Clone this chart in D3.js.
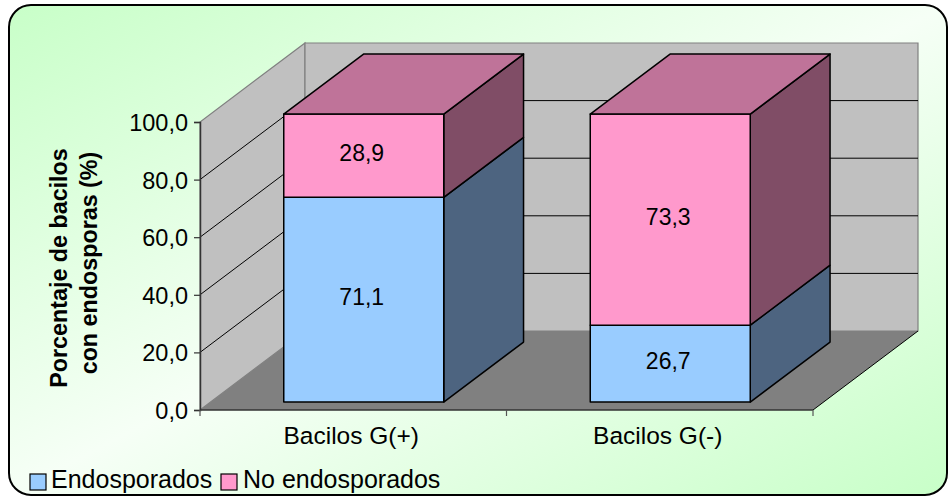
<!DOCTYPE html>
<html>
<head>
<meta charset="utf-8">
<script src="https://cdn.jsdelivr.net/npm/d3@7"></script>
<style>
  html, body { margin: 0; padding: 0; background: #ffffff; }
  svg { display: block; }
  text { font-family: "Liberation Sans", Arial, sans-serif; fill: #000; }
</style>
</head>
<body>
<svg id="chart" width="949" height="496"></svg>
<script>
// Data
const categories = ["Bacilos G(+)", "Bacilos G(-)"];
const endosporados = [71.1, 26.7];
const noEndosporados = [28.9, 73.3];
const seriesNames = ["Endosporados", "No endosporados"];
const yTicks = [0, 20, 40, 60, 80, 100];
const yTitle = ["Porcentaje de bacilos", "con endosporas (%)"];

// Face colours per series: front, side (shaded), top
const seriesColors = [
  { front: "#99ccff", side: "#4d6480", top: "#7399bf" },
  { front: "#ff99cc", side: "#804d66", top: "#bf7399" }
];

const fmt = d => d.toFixed(1).replace(".", ",");

const svg = d3.select("#chart");

// Background panel with diagonal gradient
const defs = svg.append("defs");
const grad = defs.append("linearGradient")
  .attr("id", "bg").attr("x1", 0).attr("y1", 0).attr("x2", 1).attr("y2", 1);
grad.append("stop").attr("offset", 0).attr("stop-color", "#c8ffc8");
grad.append("stop").attr("offset", 0.5).attr("stop-color", "#f6fff6");
grad.append("stop").attr("offset", 1).attr("stop-color", "#c8ffc8");

svg.append("rect")
  .attr("x", 9).attr("y", 5).attr("width", 938).attr("height", 490)
  .attr("rx", 22).attr("ry", 22)
  .attr("fill", "url(#bg)")
  .attr("stroke", "#000").attr("stroke-width", 2);

// Scales and 3D projection
const x = d3.scaleBand().domain(categories).range([200, 813]).padding(0);
const y = d3.scaleLinear().domain([0, 100]).range([410, 122]);
const DX = 105, DY = 79;            // depth offset of the back wall
const proj = (px, v, z) => [px + z * DX, y(v) - z * DY];
const poly = pts => pts.map(p => p.join(",")).join(" ");

const X0 = x.range()[0], X1 = x.range()[1];
const g = svg.append("g");

// Left wall
g.append("polygon")
  .attr("points", poly([proj(X0, 0, 0), proj(X0, 0, 1), proj(X0, 100, 1), proj(X0, 100, 0)]))
  .attr("fill", "#c0c0c0").attr("stroke", "#808080").attr("stroke-width", 1.2);
// Back wall
g.append("polygon")
  .attr("points", poly([proj(X0, 0, 1), proj(X1, 0, 1), proj(X1, 100, 1), proj(X0, 100, 1)]))
  .attr("fill", "#c0c0c0").attr("stroke", "#808080").attr("stroke-width", 1.2);
// Floor
g.append("polygon")
  .attr("points", poly([proj(X0, 0, 0), proj(X1, 0, 0), proj(X1, 0, 1), proj(X0, 0, 1)]))
  .attr("fill", "#808080").attr("stroke", "none");
g.append("line")
  .attr("x1", proj(X1, 0, 0)[0]).attr("y1", proj(X1, 0, 0)[1])
  .attr("x2", proj(X1, 0, 1)[0]).attr("y2", proj(X1, 0, 1)[1])
  .attr("stroke", "#000").attr("stroke-width", 1);

// Gridlines on the walls
yTicks.filter(v => v > 0 && v < 100).forEach(v => {
  const a = proj(X0, v, 0), b = proj(X0, v, 1), c = proj(X1, v, 1);
  g.append("polyline")
    .attr("points", poly([a, b, c]))
    .attr("fill", "none").attr("stroke", "#000").attr("stroke-width", 1);
});

// Y axis
const yAxis = d3.axisLeft(y).tickValues(yTicks).tickFormat(fmt).tickSize(6).tickPadding(6);
const ya = svg.append("g").attr("transform", `translate(${X0},0)`).call(yAxis);
ya.select(".domain").attr("stroke", "#333").attr("stroke-width", 1.5);
ya.selectAll(".tick line").attr("stroke", "#333").attr("stroke-width", 1.2);
ya.selectAll(".tick text")
  .attr("font-size", 23.5).attr("font-family", "Liberation Sans, Arial, sans-serif")
  .attr("fill", "#000").attr("dy", "0.36em");

// X axis line, category boundary ticks and labels
svg.append("line")
  .attr("x1", X0).attr("x2", X1).attr("y1", y(0)).attr("y2", y(0))
  .attr("stroke", "#333").attr("stroke-width", 1.5);
const bounds = [X0].concat(categories.map(c => x(c) + x.bandwidth()));
svg.selectAll(".xtick").data(bounds).enter().append("line")
  .attr("x1", d => d).attr("x2", d => d)
  .attr("y1", y(0)).attr("y2", y(0) + 6)
  .attr("stroke", "#555").attr("stroke-width", 1.2);
svg.selectAll(".xlabel").data(categories).enter().append("text")
  .attr("x", d => x(d) + x.bandwidth() / 2 - 2)
  .attr("y", 444)
  .attr("text-anchor", "middle")
  .attr("font-size", 24.5)
  .text(d => d);

// Bars (stacked, drawn as boxes)
const barFrac = 0.522, zf = 0.1, zb = 0.86;
const stacks = categories.map((c, i) => [endosporados[i], noEndosporados[i]]);

stacks.forEach((vals, i) => {
  const cat = categories[i];
  const bw = x.bandwidth() * barFrac;
  const xa = x(cat) + (x.bandwidth() - bw) / 2;
  const xb = xa + bw;
  let base = 0;
  const bar = svg.append("g");
  vals.forEach((v, s) => {
    const v0 = base, v1 = base + v;
    const col = seriesColors[s];
    bar.append("polygon")
      .attr("points", poly([proj(xb, v0, zf), proj(xb, v0, zb), proj(xb, v1, zb), proj(xb, v1, zf)]))
      .attr("fill", col.side).attr("stroke", "#000").attr("stroke-width", 1.5).attr("stroke-linejoin", "round");
    bar.append("polygon")
      .attr("points", poly([proj(xa, v0, zf), proj(xb, v0, zf), proj(xb, v1, zf), proj(xa, v1, zf)]))
      .attr("fill", col.front).attr("stroke", "#000").attr("stroke-width", 1.5).attr("stroke-linejoin", "round");
    if (s === vals.length - 1) {
      bar.append("polygon")
        .attr("points", poly([proj(xa, v1, zf), proj(xb, v1, zf), proj(xb, v1, zb), proj(xa, v1, zb)]))
        .attr("fill", col.top).attr("stroke", "#000").attr("stroke-width", 1.5).attr("stroke-linejoin", "round");
    }
    const c0 = proj((xa + xb) / 2, (v0 + v1) / 2, zf);
    bar.append("text")
      .attr("x", c0[0] - 2).attr("y", c0[1] - 3)
      .attr("dy", "0.36em")
      .attr("text-anchor", "middle")
      .attr("font-size", 23)
      .text(fmt(v));
    base = v1;
  });
});

// Y axis title
const titleCenters = [268, 263];
const titleBaselines = [67, 97];
yTitle.forEach((t, k) => {
  svg.append("text")
    .attr("transform", `translate(${titleBaselines[k]},${titleCenters[k]}) rotate(-90)`)
    .attr("text-anchor", "middle")
    .attr("font-size", 23.3)
    .attr("font-weight", "bold")
    .text(t);
});

// Legend
const legendItems = [
  { name: seriesNames[0], color: seriesColors[0].front, sx: 30, tx: 51 },
  { name: seriesNames[1], color: seriesColors[1].front, sx: 221, tx: 243 }
];
const lg = svg.append("g");
legendItems.forEach(it => {
  lg.append("rect")
    .attr("x", it.sx).attr("y", 474).attr("width", 16).attr("height", 16)
    .attr("fill", it.color).attr("stroke", "#000").attr("stroke-width", 1.2);
  lg.append("text")
    .attr("x", it.tx).attr("y", 488)
    .attr("font-size", 25)
    .text(it.name);
});
</script>
</body>
</html>
